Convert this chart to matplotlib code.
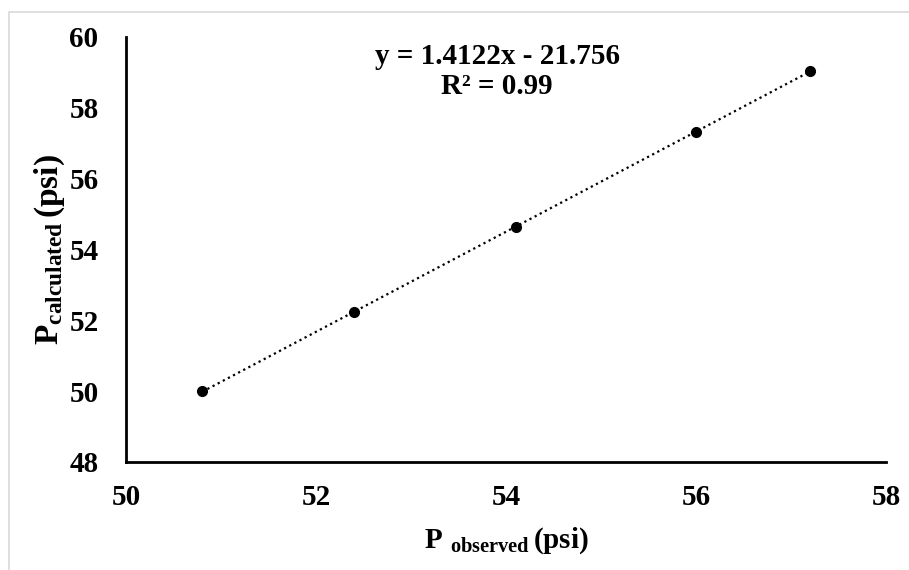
import numpy as np
import matplotlib.pyplot as plt
from matplotlib.patches import Rectangle

plt.rcParams['font.family'] = 'Liberation Serif'
plt.rcParams['font.weight'] = 'bold'
plt.rcParams['mathtext.fontset'] = 'custom'
plt.rcParams['mathtext.rm'] = 'Liberation Serif:bold'
plt.rcParams['mathtext.bf'] = 'Liberation Serif:bold'
plt.rcParams['mathtext.it'] = 'Liberation Serif:bold'

# observed vs calculated pressure
p_observed = [50.8, 52.4, 54.1, 56.0, 57.2]
p_calculated = [50.0, 52.23, 54.63, 57.31, 59.03]
x_ticks = [50, 52, 54, 56, 58]
y_ticks = [48, 50, 52, 54, 56, 58, 60]

# trendline coefficients as printed on the chart
slope = 1.4122
intercept = -21.756
r_squared = 0.99

fig = plt.figure(figsize=(9.09, 5.7), dpi=100)
ax = fig.add_axes([0.139, 0.1895, 0.836, 0.746])

fit_x = np.array([min(p_observed), max(p_observed)])
ax.plot(fit_x, slope * fit_x + intercept, color='black', linestyle=(0, (1, 1.6)), linewidth=1.6)
ax.plot(p_observed, p_calculated, 'o', color='black', markersize=7)

ax.text(0.488, 0.918, f'y = {slope}x - {abs(intercept)}\nR\u00b2 = {r_squared:.2f}',
        transform=ax.transAxes, ha='center', va='center', fontsize=21,
        fontweight='bold', linespacing=1.15)

ax.set_xlim(50, 58)
ax.set_ylim(48, 60)
ax.set_xticks(x_ticks)
ax.set_yticks(y_ticks)
ax.tick_params(length=0, labelsize=21)
ax.tick_params(axis='x', pad=16)
ax.tick_params(axis='y', pad=20)
for s in ['top', 'right']:
    ax.spines[s].set_visible(False)
for s in ['left', 'bottom']:
    ax.spines[s].set_linewidth(2)

ax.set_xlabel(r'$\mathrm{P\ _{observed}\,(psi)}$', fontsize=21, labelpad=10)
ax.set_ylabel(r'$\mathrm{P_{calculated}\,(psi)}$', fontsize=24, labelpad=2)

# chart area border
fig.patches.append(Rectangle((9 / 909, -0.1), 1.2, 1 - 12 / 570 + 0.1, transform=fig.transFigure,
                             fill=False, edgecolor='#d9d9d9', linewidth=1.2))

fig.savefig('out.png', dpi=100)
